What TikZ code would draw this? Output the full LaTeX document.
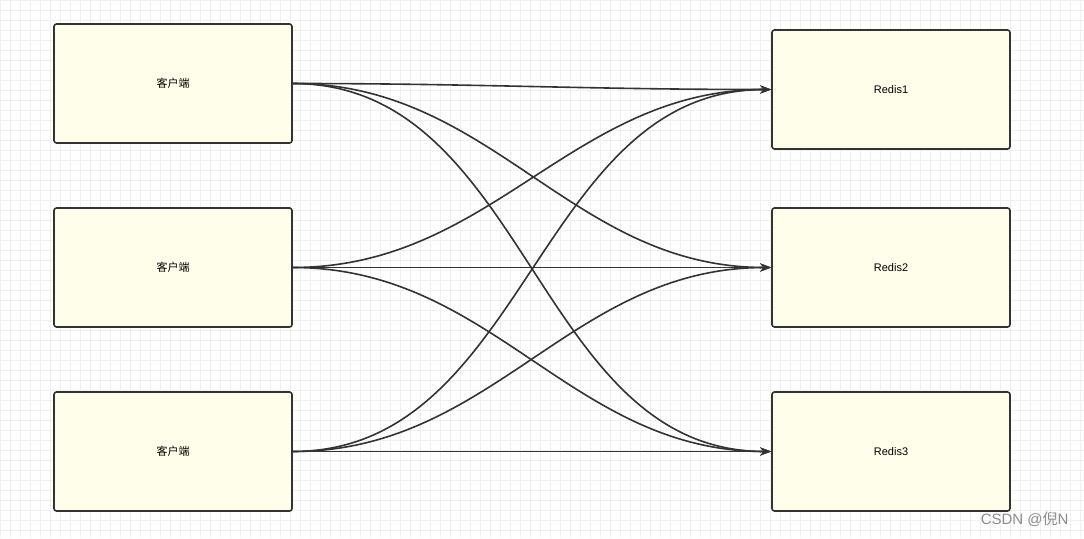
\documentclass[tikz,border=0pt]{standalone}
\usepackage{fontspec}
\setmainfont{Liberation Sans}
\newfontfamily\cjk{Noto Sans CJK SC}
\usetikzlibrary{arrows.meta}
\tikzset{
  box/.style={draw=black!80, fill=yellow!8, line width=1.6pt, rounded corners=2.5pt, minimum width=238pt, minimum height=119pt, inner sep=0pt, font=\fontsize{11}{13}\selectfont},
  link/.style={draw=black!80, line width=1.6pt, -{Stealth[length=11pt,width=8pt]}}
}
\begin{document}
\begin{tikzpicture}[x=1pt,y=-1pt]
\useasboundingbox (0,0) rectangle (1084,538);
\fill[white] (0,0) rectangle (1084,538);
\draw[black!6, line width=0.4pt, step=10pt] (0,0) grid (1084,538);
\node[box] (c1) at (173,83.5) {\cjk 客户端};
\node[box] (c2) at (173,267.5) {\cjk 客户端};
\node[box] (c3) at (173,451.5) {\cjk 客户端};
\node[box] (r1) at (891,89.5) {Redis1};
\node[box] (r2) at (891,267.5) {Redis2};
\node[box] (r3) at (891,451.5) {Redis3};
\foreach \c in {c1,c2,c3}{
  \foreach \r in {r1,r2,r3}{
    \draw[link] (\c.east) to[out=0,in=180] (\r.west);
  }
}
\node[text=black!45, font=\fontsize{15}{17}\selectfont, anchor=east] (wm) at (1072,519) {CSDN @\cjk 倪\rmfamily N};
\end{tikzpicture}
\end{document}
